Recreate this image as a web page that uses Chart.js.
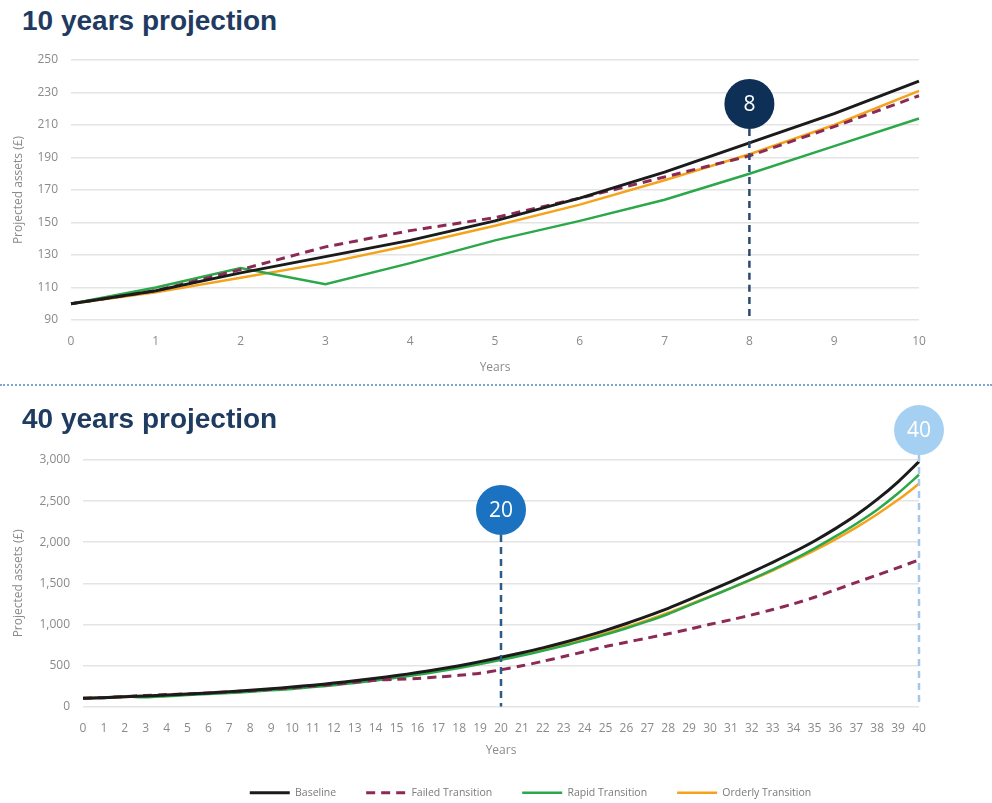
<!DOCTYPE html>
<html lang="en">
<head>
    <meta charset="UTF-8">
    <title>Projected assets</title>
    <script src="https://cdn.jsdelivr.net/npm/chart.js"></script>
    <style>
        body { margin: 0; width: 992px; height: 803px; overflow: hidden; position: relative; background: #fff; }
        .title { position: absolute; left: 22px; font: bold 28px "Liberation Sans", Arial, sans-serif; line-height: 1; color: #1f3b61; z-index: 2; }
        .box { position: absolute; left: 0; width: 992px; }
        .sep { position: absolute; left: 0; width: 992px; height: 0; border-top: 2px dotted #7fa6d2; }
    </style>
</head>
<body>
    <div class="title" style="top:7px">10 years projection</div>
    <div class="box" style="top:38px; height:345px"><canvas id="chart10"></canvas></div>
    <div class="sep" style="top:384px"></div>
    <div class="title" style="top:405px">40 years projection</div>
    <div class="box" style="top:400px; height:408px"><canvas id="chart40"></canvas></div>

    <script>
        // 10 year projection
        const years10 = [0, 1, 2, 3, 4, 5, 6, 7, 8, 9, 10];
        const baseline10 = [100, 108, 119, 129, 139, 151, 165, 181, 199, 217, 237];
        const failed10 = [100, 108, 121, 135, 145, 153, 165, 178, 191, 209, 228];
        const rapid10 = [100, 110, 122, 112, 125, 139, 151, 164, 180, 197, 214];
        const orderly10 = [100, 107, 116, 125, 136, 148, 161, 176, 192, 210, 231];

        // 40 year projection
        const years40 = [0, 1, 2, 3, 4, 5, 6, 7, 8, 9, 10, 11, 12, 13, 14, 15, 16, 17, 18, 19, 20,
            21, 22, 23, 24, 25, 26, 27, 28, 29, 30, 31, 32, 33, 34, 35, 36, 37, 38, 39, 40];
        const baseline40 = [100, 108, 119, 129, 139, 151, 165, 181, 199, 217, 237,
            260, 285, 313, 343, 376, 413, 453, 497, 546, 600,
            655, 714, 779, 850, 927, 1010, 1100, 1195, 1300, 1410,
            1520, 1635, 1755, 1880, 2015, 2165, 2330, 2520, 2735, 2980];
        const failed40 = [100, 108, 121, 135, 145, 153, 165, 178, 191, 209, 228,
            249, 271, 295, 320, 330, 342, 360, 380, 405, 447,
            495, 550, 608, 668, 730, 782, 833, 885, 940, 1000,
            1055, 1115, 1180, 1250, 1330, 1420, 1510, 1600, 1690, 1785];
        const rapid40 = [100, 110, 122, 112, 125, 139, 151, 164, 180, 197, 214,
            236, 260, 287, 317, 350, 386, 425, 468, 516, 568,
            620, 677, 738, 805, 876, 953, 1036, 1126, 1230, 1335,
            1440, 1550, 1665, 1790, 1925, 2070, 2225, 2395, 2595, 2820];
        const orderly40 = [100, 107, 116, 125, 136, 148, 161, 176, 192, 210, 231,
            254, 279, 306, 336, 369, 405, 445, 489, 537, 590,
            641, 696, 756, 821, 891, 968, 1051, 1141, 1240, 1340,
            1440, 1545, 1655, 1775, 1900, 2035, 2180, 2340, 2515, 2710];

        const seriesNames = ['Baseline', 'Failed Transition', 'Rapid Transition', 'Orderly Transition'];

        Chart.defaults.font.family = "'Open Sans', sans-serif";
        Chart.defaults.font.size = 12;
        Chart.defaults.color = '#8a8a8a';

        function makeDatasets(b, f, r, o, tension) {
            return [
                { label: seriesNames[0], data: b, borderColor: '#1b1b1b', borderWidth: 3 },
                { label: seriesNames[1], data: f, borderColor: '#8b2a55', borderWidth: 3, borderDash: [9, 6] },
                { label: seriesNames[2], data: r, borderColor: '#2aa84a', borderWidth: 2.5 },
                { label: seriesNames[3], data: o, borderColor: '#f5a31a', borderWidth: 2.5 }
            ].map(d => Object.assign(d, { pointRadius: 0, tension: tension, fill: false }));
        }

        // vertical dashed line with a numbered circle on top
        const markerPlugin = {
            id: 'markers',
            afterDatasetsDraw(chart, args, opts) {
                const { ctx, chartArea, scales: { x, y } } = chart;
                (opts.items || []).forEach(m => {
                    const px = x.getPixelForValue(m.year);
                    const cy = y.getPixelForValue(m.at);
                    ctx.save();
                    ctx.strokeStyle = m.line;
                    ctx.lineWidth = 2.5;
                    ctx.setLineDash([7, 5]);
                    ctx.beginPath();
                    ctx.moveTo(px, cy + 25);
                    ctx.lineTo(px, chartArea.bottom);
                    ctx.stroke();
                    ctx.setLineDash([]);
                    ctx.fillStyle = m.fill;
                    ctx.beginPath();
                    ctx.arc(px, cy, 25, 0, Math.PI * 2);
                    ctx.fill();
                    ctx.fillStyle = '#fff';
                    ctx.font = "21px 'Open Sans', sans-serif";
                    ctx.textAlign = 'center';
                    ctx.textBaseline = 'middle';
                    ctx.fillText(String(m.year), px, cy + 1);
                    ctx.restore();
                });
            }
        };

        // move the legend to the right, under the plot
        const legendShift = {
            id: 'legendShift',
            afterLayout(chart, args, opts) {
                if (chart.legend && opts.dx) {
                    chart.legend.left += opts.dx;
                    chart.legend.right += opts.dx;
                }
            }
        };

        function yAxis(min, max, step, width) {
            return {
                min: min, max: max,
                ticks: { stepSize: step, padding: 13, color: '#8a8a8a' },
                grid: { color: '#e4e4e4', lineWidth: 1.5, drawTicks: false },
                border: { display: false },
                title: { display: true, text: 'Projected assets (£)', color: '#8a8a8a', font: { size: 12 }, padding: { top: 11, bottom: 0 } },
                afterFit: s => { s.width = width; }
            };
        }

        function xAxis(height, tickPad, titlePad) {
            return {
                grid: { display: false, drawTicks: false },
                border: { display: false },
                ticks: { autoSkip: false, maxRotation: 0, padding: tickPad, color: '#8a8a8a' },
                title: { display: true, text: 'Years', color: '#8a8a8a', font: { size: 12 }, padding: { top: 0, bottom: titlePad } },
                afterFit: s => { s.height = height; }
            };
        }

        new Chart(document.getElementById('chart10'), {
            type: 'line',
            data: { labels: years10, datasets: makeDatasets(baseline10, failed10, rapid10, orderly10, 0) },
            options: {
                responsive: true,
                maintainAspectRatio: false,
                animation: false,
                layout: { padding: { top: 22, right: 73, left: 0, bottom: 0 } },
                scales: { x: xAxis(63, 14, 8), y: yAxis(90, 250, 20, 71) },
                plugins: {
                    legend: { display: false },
                    tooltip: { enabled: false },
                    markers: { items: [{ year: 8, at: 223, fill: '#0e2f56', line: '#2b4a6f' }] }
                }
            },
            plugins: [markerPlugin]
        });

        new Chart(document.getElementById('chart40'), {
            type: 'line',
            data: { labels: years40, datasets: makeDatasets(baseline40, failed40, rapid40, orderly40, 0.3) },
            options: {
                responsive: true,
                maintainAspectRatio: false,
                animation: false,
                layout: { padding: { top: 60, right: 73, left: 0, bottom: 0 } },
                scales: { x: xAxis(51, 15, 0), y: yAxis(0, 3000, 500, 83) },
                plugins: {
                    legend: {
                        position: 'bottom',
                        labels: {
                            usePointStyle: true, pointStyle: 'line', pointStyleWidth: 40,
                            padding: 30, color: '#7a7a7a', font: { size: 10.5 },
                            // legend swatches take the dash of the line, not of its points
                            generateLabels: chart => Chart.defaults.plugins.legend.labels.generateLabels(chart).map(item => {
                                const ds = chart.data.datasets[item.datasetIndex];
                                item.lineDash = ds.borderDash || [];
                                item.strokeStyle = ds.borderColor;
                                item.lineWidth = ds.borderWidth;
                                return item;
                            })
                        }
                    },
                    legendShift: { dx: 71 },
                    tooltip: { enabled: false },
                    markers: {
                        items: [
                            { year: 20, at: 2393, fill: '#1a72c0', line: '#2a5c8a' },
                            { year: 40, at: 3364, fill: '#a6d0f2', line: '#a9c6ea' }
                        ]
                    }
                }
            },
            plugins: [markerPlugin, legendShift]
        });
    </script>
</body>
</html>
